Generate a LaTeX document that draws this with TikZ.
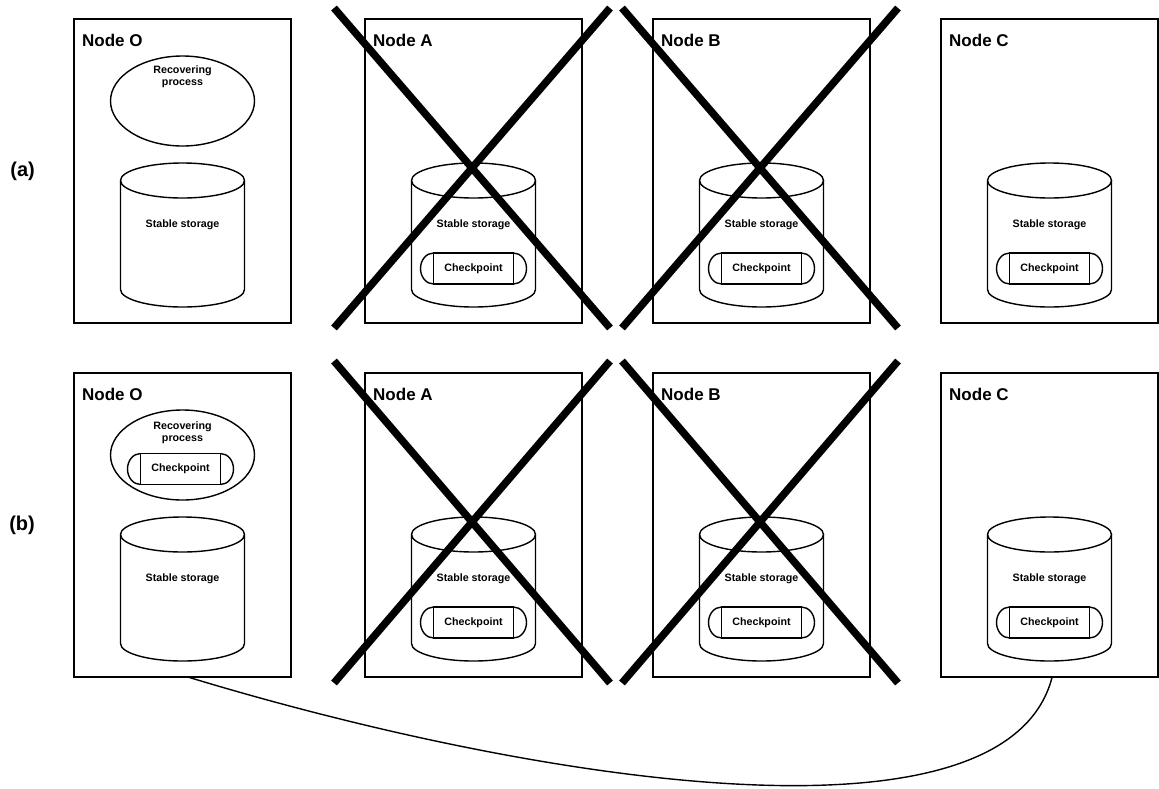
\documentclass[tikz,border=0pt]{standalone}
\usepackage{fontspec}
\setmainfont{Liberation Sans}
\usetikzlibrary{positioning, calc, shapes.geometric}

\tikzset{
  host/.style={draw, line width=1.4pt, minimum width=217pt, minimum height=304pt,
    inner sep=0pt, outer sep=0pt},
  title/.style={anchor=base west, inner sep=0pt, font=\fontsize{17}{20}\selectfont\bfseries},
  tag/.style={inner sep=0pt, font=\fontsize{20}{24}\selectfont\bfseries},
  small/.style={inner sep=0pt, align=center, font=\fontsize{10.7}{12}\selectfont\bfseries},
  proc/.style={draw, ellipse, line width=1.4pt, minimum width=144pt, minimum height=90pt,
    inner sep=0pt},
  ckpt/.style={draw, line width=1.4pt, minimum width=80pt, minimum height=31pt,
    inner sep=0pt, outer sep=0pt, font=\fontsize{10.7}{12}\selectfont\bfseries},
  wire/.style={line width=1.4pt},
  cross/.style={line width=7.5pt},
}

% disk: #1 name of the top centre, #2 where it sits
\newcommand{\storage}[2]{
  \coordinate (#1) at (#2);
  \draw[wire] ($(#1)+(-62,0)$) -- ++(0,-109)
    arc[start angle=180, end angle=360, x radius=62, y radius=17.5] -- ++(0,109);
  \draw[wire] (#1) ellipse[x radius=62, y radius=17.5];
  \node[small] (#1-l) at ($(#1)+(0,-44)$) {Stable storage};
}
% checkpoint with rounded end caps
\newcommand{\ckpt}[2]{
  \node[ckpt] (#1) at (#2) {Checkpoint};
  \draw[wire] (#1.north west) arc[start angle=90, end angle=270, x radius=13, y radius=15.5];
  \draw[wire] (#1.north east) arc[start angle=90, end angle=-90, x radius=13, y radius=15.5];
  \draw[line width=1.8pt] (#1.north west) -- (#1.south west);
  \draw[line width=1.8pt] (#1.north east) -- (#1.south east);
}

\begin{document}
\begin{tikzpicture}[x=1pt, y=1pt]
\useasboundingbox (0,0) rectangle (1159,-788);

% row (a)
\node[host] (oa) at (182.5,-171) {};
\node[host, right=74pt of oa] (aa) {};
\node[host, right=71pt of aa] (ba) {};
\node[host, right=71pt of ba] (ca) {};
\node[tag, left=39pt of oa] (ta) {(a)};

\node[title] (noa) at ($(oa.north west)+(8,-27)$) {Node O};
\node[title] (naa) at ($(aa.north west)+(8,-27)$) {Node A};
\node[title] (nba) at ($(ba.north west)+(8,-27)$) {Node B};
\node[title] (nca) at ($(ca.north west)+(8,-27)$) {Node C};

\node[proc] (pa) at ($(oa.north)+(0,-82)$) {};
\node[small] (pa-l) at ($(pa)+(0,24)$) {Recovering\\process};

\storage{so}{$(oa.north)+(0,-161.5)$}
\storage{sa}{$(aa.north)+(0,-161.5)$}
\storage{sb}{$(ba.north)+(0,-161.5)$}
\storage{sc}{$(ca.north)+(0,-161.5)$}
\ckpt{ka}{$(sa)+(0,-88)$}
\ckpt{kb}{$(sb)+(0,-88)$}
\ckpt{kc}{$(sc)+(0,-88)$}

% row (b)
\node[host] (ob) at (182.5,-525) {};
\node[host, right=74pt of ob] (ab) {};
\node[host, right=71pt of ab] (bb) {};
\node[host, right=71pt of bb] (cb) {};
\node[tag, left=39pt of ob] (tb) {(b)};

\node[title] (nob) at ($(ob.north west)+(8,-27)$) {Node O};
\node[title] (nab) at ($(ab.north west)+(8,-27)$) {Node A};
\node[title] (nbb) at ($(bb.north west)+(8,-27)$) {Node B};
\node[title] (ncb) at ($(cb.north west)+(8,-27)$) {Node C};

\node[proc] (pb) at ($(ob.north)+(0,-82)$) {};
\node[small] (pb-l) at ($(pb)+(0,22)$) {Recovering\\process};
\ckpt{kp}{$(pb)+(-2,-14)$}

\storage{to}{$(ob.north)+(0,-161.5)$}
\storage{ta}{$(ab.north)+(0,-161.5)$}
\storage{tb}{$(bb.north)+(0,-161.5)$}
\storage{tc}{$(cb.north)+(0,-161.5)$}
\ckpt{la}{$(ta)+(0,-88)$}
\ckpt{lb}{$(tb)+(0,-88)$}
\ckpt{lc}{$(tc)+(0,-88)$}

% failed nodes
\draw[cross] ($(aa.north west)+(-31,11)$) -- ($(aa.south east)+(28,-5)$);
\draw[cross] ($(aa.south west)+(-31,-5)$) -- ($(aa.north east)+(28,11)$);
\draw[cross] ($(ba.north west)+(-31,11)$) -- ($(ba.south east)+(28,-5)$);
\draw[cross] ($(ba.south west)+(-31,-5)$) -- ($(ba.north east)+(28,11)$);
\draw[cross] ($(ab.north west)+(-31,12)$) -- ($(ab.south east)+(28,-6)$);
\draw[cross] ($(ab.south west)+(-31,-6)$) -- ($(ab.north east)+(28,12)$);
\draw[cross] ($(bb.north west)+(-31,12)$) -- ($(bb.south east)+(28,-6)$);
\draw[cross] ($(bb.south west)+(-31,-6)$) -- ($(bb.north east)+(28,12)$);

% link from O to C
\draw[wire] (ob.-88) .. controls (520,-778) and (1005,-860) .. (cb.-89);
\end{tikzpicture}
\end{document}
